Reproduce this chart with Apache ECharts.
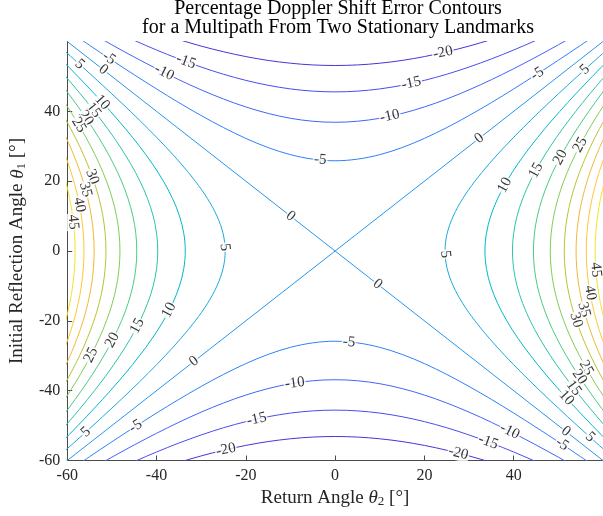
<!DOCTYPE html>
<html>
<head>
<meta charset="utf-8">
<script src="https://cdn.jsdelivr.net/npm/echarts@6/dist/echarts.min.js"></script>
<style>
  html, body { margin: 0; padding: 0; background: #ffffff; }
  #chart { width: 603px; height: 516px; }
</style>
</head>
<body>
<div id="chart"></div>
<script>
// Sample angles (deg) along each contour branch
const sampleAngles = [0, 5, 10, 15, 20, 25, 30, 35, 40, 45, 50, 55, 60];

// Negative levels: initial reflection angle θ1 on the upper branch, per θ2 sample
const thetaNeg5  = [25.84, 26.31, 27.59, 29.62, 32.25, 35.35, 38.79, 42.50, 46.41, 50.48, 54.64, 58.92, 63.26];
const thetaNeg10 = [36.87, 37.16, 38.01, 39.40, 41.26, 43.53, 46.15, 49.06, 52.21, 55.55, 59.05, 62.69, 66.42];
const thetaNeg15 = [45.57, 45.79, 46.42, 47.46, 48.87, 50.62, 52.69, 55.01, 57.57, 60.33, 63.26, 66.33, 69.51];
const thetaNeg20 = [53.13, 53.29, 53.78, 54.58, 55.68, 57.06, 58.69, 60.56, 62.64, 64.90, 67.31, 69.87, 72.54];

// Positive levels: return angle θ2 on the right branch, per θ1 sample
const thetaPos5  = [24.62, 25.09, 26.46, 28.58, 31.32, 34.52, 38.07, 41.87, 45.86, 50.00, 54.24, 58.57, 62.96];
const thetaPos10 = [33.56, 33.89, 34.85, 36.40, 38.46, 40.95, 43.81, 46.95, 50.33, 53.90, 57.61, 61.45, 65.38];
const thetaPos15 = [39.72, 39.98, 40.75, 42.01, 43.71, 45.80, 48.23, 50.94, 53.90, 57.05, 60.37, 63.82, 67.38];
const thetaPos20 = [44.42, 44.64, 45.30, 46.38, 47.84, 49.66, 51.79, 54.19, 56.83, 59.66, 62.67, 65.81, 69.08];
const thetaPos25 = [48.19, 48.39, 48.96, 49.91, 51.21, 52.83, 54.74, 56.90, 59.29, 61.87, 64.63, 67.52, 70.53];
const thetaPos30 = [51.32, 51.50, 52.01, 52.86, 54.03, 55.50, 57.23, 59.21, 61.40, 63.77, 66.31, 68.99, 71.79];
const thetaPos35 = [53.97, 54.13, 54.60, 55.38, 56.44, 57.78, 59.37, 61.19, 63.22, 65.42, 67.78, 70.28, 72.90];
const thetaPos40 = [56.25, 56.40, 56.83, 57.55, 58.53, 59.77, 61.24, 62.93, 64.81, 66.87, 69.08, 71.42, 73.87];
const thetaPos45 = [58.24, 58.38, 58.78, 59.44, 60.36, 61.51, 62.88, 64.46, 66.22, 68.15, 70.23, 72.43, 74.74];

// Zero-error contour: the two diagonals, end points (deg)
const zeroEnds = [-60, 60];

// Contour levels (%)
const levels = [-20, -15, -10, -5, 0, 5, 10, 15, 20, 25, 30, 35, 40, 45];

// Inline contour labels: [θ2, θ1, level]
const labelSpots = [
  [24.0, 57.6, -20], [-33.3, 54.7, -15], [17.0, 48.4, -15], [-38.2, 51.3, -10], [12.1, 39.5, -10],
  [-50.3, 55.9, -5], [45.0, 51.3, -5], [-3.3, 26.4, -5],
  [-51.8, 52.1, 0], [32.0, 32.7, 0], [-9.9, 10.0, 0], [9.7, -9.2, 0], [-31.8, -31.2, 0], [51.6, -51.9, 0],
  [-56.9, 53.9, 5], [55.6, 52.4, 5], [-24.5, 1.1, 5], [24.7, -0.9, 5], [-55.8, -51.9, 5], [57.1, -53.3, 5],
  [-44.8, -49.9, -5], [50.7, -55.6, -5], [3.1, -26.1, -5],
  [-9.0, -38.1, -10], [39.0, -51.9, -10], [-17.6, -48.1, -15], [34.2, -55.0, -15],
  [-24.5, -56.7, -20], [27.6, -57.9, -20],
  [-51.8, 43.0, 10], [-54.0, 40.4, 15], [-55.8, 38.1, 20], [-57.4, 36.1, 25],
  [-54.5, 21.2, 30], [-56.0, 17.5, 35], [-57.4, 13.2, 40], [-58.7, 8.3, 45],
  [-37.3, -16.9, 10], [-44.3, -21.5, 15], [-49.9, -25.5, 20], [-54.7, -29.8, 25],
  [37.9, 18.9, 10], [44.8, 23.2, 15], [50.3, 26.9, 20], [54.9, 30.4, 25],
  [58.3, -5.4, 45], [57.1, -12.0, 40], [55.6, -16.9, 35], [54.0, -19.8, 30],
  [56.2, -33.5, 25], [54.7, -36.1, 20], [53.4, -39.3, 15], [51.8, -42.1, 10]
];

// Axis tick values
const tickValues = [-60, -40, -20, 0, 20, 40];

// parula colours for each level
const levelColors = {
  '-20': '#4537d5', '-15': '#484df0', '-10': '#4563fd', '-5': '#2f81fa', '0': '#2796eb',
  '5': '#1ca9df', '10': '#01b8ca', '15': '#2cc4a7', '20': '#4acb84', '25': '#81cc59',
  '30': '#b9c431', '35': '#f0ba36', '40': '#fec934', '45': '#f5e327'
};

const negTable = { '-5': thetaNeg5, '-10': thetaNeg10, '-15': thetaNeg15, '-20': thetaNeg20 };
const posTable = { '5': thetaPos5, '10': thetaPos10, '15': thetaPos15, '20': thetaPos20, '25': thetaPos25,
                   '30': thetaPos30, '35': thetaPos35, '40': thetaPos40, '45': thetaPos45 };

// Build the branches of one level as lists of [θ2, θ1]
function branchesFor(level) {
  const n = sampleAngles.length;
  if (level === 0) {
    return [
      [[zeroEnds[0], zeroEnds[0]], [zeroEnds[1], zeroEnds[1]]],
      [[zeroEnds[0], zeroEnds[1]], [zeroEnds[1], zeroEnds[0]]]
    ];
  }
  const out = [[], []];
  if (level < 0) {
    const t = negTable[String(level)];
    for (let i = n - 1; i >= 1; i--) { out[0].push([-sampleAngles[i], t[i]]); out[1].push([-sampleAngles[i], -t[i]]); }
    for (let i = 0; i < n; i++) { out[0].push([sampleAngles[i], t[i]]); out[1].push([sampleAngles[i], -t[i]]); }
  } else {
    const t = posTable[String(level)];
    for (let i = n - 1; i >= 1; i--) { out[0].push([t[i], -sampleAngles[i]]); out[1].push([-t[i], -sampleAngles[i]]); }
    for (let i = 0; i < n; i++) { out[0].push([t[i], sampleAngles[i]]); out[1].push([-t[i], sampleAngles[i]]); }
  }
  return out;
}

const FONT = "'Liberation Serif', 'DejaVu Serif', serif";
const AXIS_COLOR = '#4a4a4a';
const TEXT_COLOR = '#262626';

const branchMap = {};
const lineSeries = [];
levels.forEach(lv => {
  const brs = branchesFor(lv);
  branchMap[lv] = brs;
  brs.forEach(br => {
    lineSeries.push({
      type: 'line',
      data: br,
      smooth: lv === 0 ? false : 0.35,
      symbol: 'none',
      showSymbol: false,
      clip: true,
      silent: true,
      lineStyle: { color: levelColors[String(lv)], width: 1 },
      z: 2
    });
  });
});

const chart = echarts.init(document.getElementById('chart'), null, { renderer: 'canvas' });

const nameStyle = {
  color: TEXT_COLOR, fontFamily: FONT, fontSize: 19,
  rich: {
    it: { fontFamily: FONT, fontSize: 19, fontStyle: 'italic', color: TEXT_COLOR },
    sub: { fontFamily: FONT, fontSize: 13, color: TEXT_COLOR, padding: [8, 0, 0, 0] }
  }
};

const axisCommon = {
  type: 'value',
  min: -60,
  max: 60,
  nameLocation: 'middle',
  axisLine: { show: true, onZero: false, lineStyle: { color: AXIS_COLOR, width: 1 } },
  axisTick: { show: true, inside: true, length: 5, customValues: tickValues, lineStyle: { color: AXIS_COLOR } },
  axisLabel: { customValues: tickValues, color: TEXT_COLOR, fontFamily: FONT, fontSize: 16, margin: 7 },
  splitLine: { show: false },
  nameTextStyle: nameStyle
};

chart.setOption({
  animation: false,
  backgroundColor: '#ffffff',
  grid: { left: 66, top: 41.5, right: -7, bottom: 55.5, containLabel: false },
  xAxis: Object.assign({}, axisCommon, {
    position: 'bottom',
    name: 'Return Angle {it|θ}{sub|2} [°]',
    nameGap: 26
  }),
  yAxis: Object.assign({}, axisCommon, {
    position: 'left',
    name: 'Initial Reflection Angle {it|θ}{sub|1} [°]',
    nameGap: 36
  }),
  graphic: [{
    type: 'text',
    x: 338,
    y: -1,
    style: {
      text: 'Percentage Doppler Shift Error Contours\nfor a Multipath From Two Stationary Landmarks',
      textAlign: 'center',
      textVerticalAlign: 'top',
      fill: '#000000',
      font: "20px 'Liberation Serif', serif",
      lineHeight: 19
    }
  }],
  series: lineSeries
});

// Place each label on its contour, turned along the local line direction
function snapToLevel(spot) {
  const p = chart.convertToPixel({ gridIndex: 0 }, [spot[0], spot[1]]);
  let best = null;
  branchMap[spot[2]].forEach(br => {
    const pts = br.map(q => chart.convertToPixel({ gridIndex: 0 }, q));
    for (let i = 0; i < pts.length - 1; i++) {
      const x1 = pts[i][0], y1 = pts[i][1], x2 = pts[i + 1][0], y2 = pts[i + 1][1];
      const dx = x2 - x1, dy = y2 - y1, L2 = dx * dx + dy * dy;
      if (!L2) continue;
      let t = ((p[0] - x1) * dx + (p[1] - y1) * dy) / L2;
      t = Math.max(0, Math.min(1, t));
      const qx = x1 + t * dx, qy = y1 + t * dy;
      const d = (qx - p[0]) * (qx - p[0]) + (qy - p[1]) * (qy - p[1]);
      if (!best || d < best.d) best = { d, qx, qy, dx, dy };
    }
  });
  let ang = Math.atan2(-best.dy, best.dx) * 180 / Math.PI;
  if (ang > 90) ang -= 180;
  if (ang < -90) ang += 180;
  return {
    value: chart.convertFromPixel({ gridIndex: 0 }, [best.qx, best.qy]),
    lv: spot[2],
    label: { rotate: ang }
  };
}

const labelData = labelSpots.map(snapToLevel);

chart.setOption({
  series: lineSeries.concat([{
    type: 'scatter',
    data: labelData,
    symbolSize: 0,
    silent: true,
    clip: false,
    z: 5,
    label: {
      show: true,
      position: 'inside',
      formatter: prm => String(prm.data.lv),
      fontFamily: FONT,
      fontSize: 15,
      color: '#000000',
      backgroundColor: '#ffffff',
      padding: [0, 1]
    }
  }])
});
</script>
</body>
</html>
